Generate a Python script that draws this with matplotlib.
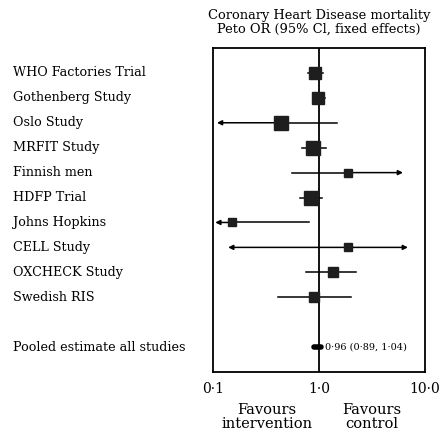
import matplotlib
matplotlib.use("Agg")
import matplotlib.pyplot as plt
from matplotlib.transforms import blended_transform_factory

studies = ["WHO Factories Trial", "Gothenberg Study", "Oslo Study", "MRFIT Study",
           "Finnish men", "HDFP Trial", "Johns Hopkins", "CELL Study",
           "OXCHECK Study", "Swedish RIS"]
odds = [0.92, 0.98, 0.44, 0.88, 1.88, 0.84, 0.151, 1.88, 1.36, 0.90]
ci_lo = [0.79, 0.88, 0.109, 0.69, 0.56, 0.66, 0.105, 0.139, 0.75, 0.41]
ci_hi = [1.09, 1.14, 1.48, 1.16, 6.2, 1.07, 0.80, 6.9, 2.23, 2.0]
lo_arrow = [False, False, True, False, False, False, True, True, False, False]
hi_arrow = [False, False, False, False, True, False, False, True, False, False]
box_pt = [9.0, 9.0, 10.0, 10.0, 6.0, 10.0, 6.0, 6.0, 7.0, 7.0]

pooled_label = "Pooled estimate all studies"
pooled = [0.96, 0.89, 1.04]
pooled_text = "0·96 (0·89, 1·04)"

xticks = [0.1, 1.0, 10.0]
xticklabels = ["0·1", "1·0", "10·0"]

W, H = 445, 434
fig = plt.figure(figsize=(W / 100, H / 100), dpi=100)
fig.patch.set_facecolor("white")
ax = fig.add_axes([213 / W, 1 - 372 / H, 212 / W, 324 / H])
ax.set_xscale("log")
ax.set_xlim(0.1, 10)
ax.set_ylim(12, -1)
for s in ax.spines.values():
    s.set_linewidth(1.3)
ax.set_yticks([])
ax.set_xticks(xticks)
ax.set_xticklabels(xticklabels)
ax.minorticks_off()
ax.tick_params(axis="x", length=0, pad=7)
serif = ["DejaVu Serif"]
for lab in ax.get_xticklabels():
    lab.set_fontfamily(serif)
    lab.set_fontsize(10)

ax.axvline(1.0, color="black", lw=1.3)

for i, name in enumerate(studies):
    y = i
    if lo_arrow[i]:
        ax.annotate("", xy=(ci_lo[i], y), xytext=(odds[i], y),
                    arrowprops=dict(arrowstyle="-|>", lw=1.1, color="black",
                                    mutation_scale=7, shrinkA=0, shrinkB=0))
    else:
        ax.plot([ci_lo[i], odds[i]], [y, y], color="black", lw=1.1)
    if hi_arrow[i]:
        ax.annotate("", xy=(ci_hi[i], y), xytext=(odds[i], y),
                    arrowprops=dict(arrowstyle="-|>", lw=1.1, color="black",
                                    mutation_scale=7, shrinkA=0, shrinkB=0))
    else:
        ax.plot([odds[i], ci_hi[i]], [y, y], color="black", lw=1.1)
    ax.plot(odds[i], y, marker="s", ms=box_pt[i], color="#1e1e1e", mec="#1e1e1e", zorder=3)

py = len(studies) + 1
ax.plot([pooled[1], pooled[2]], [py, py], color="black", lw=4, solid_capstyle="round")
ax.text(1.15, py, pooled_text, fontsize=7, family=serif, va="center", ha="left")

tr = blended_transform_factory(fig.transFigure, ax.transData)
for i, name in enumerate(studies):
    ax.text(13 / W, i, name, transform=tr, fontsize=9.2, family=serif,
            va="center", ha="left")
ax.text(13 / W, py, pooled_label, transform=tr, fontsize=9.2, family=serif,
        va="center", ha="left")

fig.text(319 / W, 1 - 15 / H, "Coronary Heart Disease mortality", fontsize=9.4,
         family=serif, ha="center", va="center")
fig.text(319 / W, 1 - 29 / H, "Peto OR (95% Cl, fixed effects)", fontsize=9.4,
         family=serif, ha="center", va="center")

fig.text(267 / W, 1 - 410 / H, "Favours", fontsize=10.5, family=serif, ha="center", va="center")
fig.text(267 / W, 1 - 424 / H, "intervention", fontsize=10.5, family=serif, ha="center", va="center")
fig.text(372 / W, 1 - 410 / H, "Favours", fontsize=10.5, family=serif, ha="center", va="center")
fig.text(372 / W, 1 - 424 / H, "control", fontsize=10.5, family=serif, ha="center", va="center")

fig.savefig("out.png", dpi=100, facecolor="white")
